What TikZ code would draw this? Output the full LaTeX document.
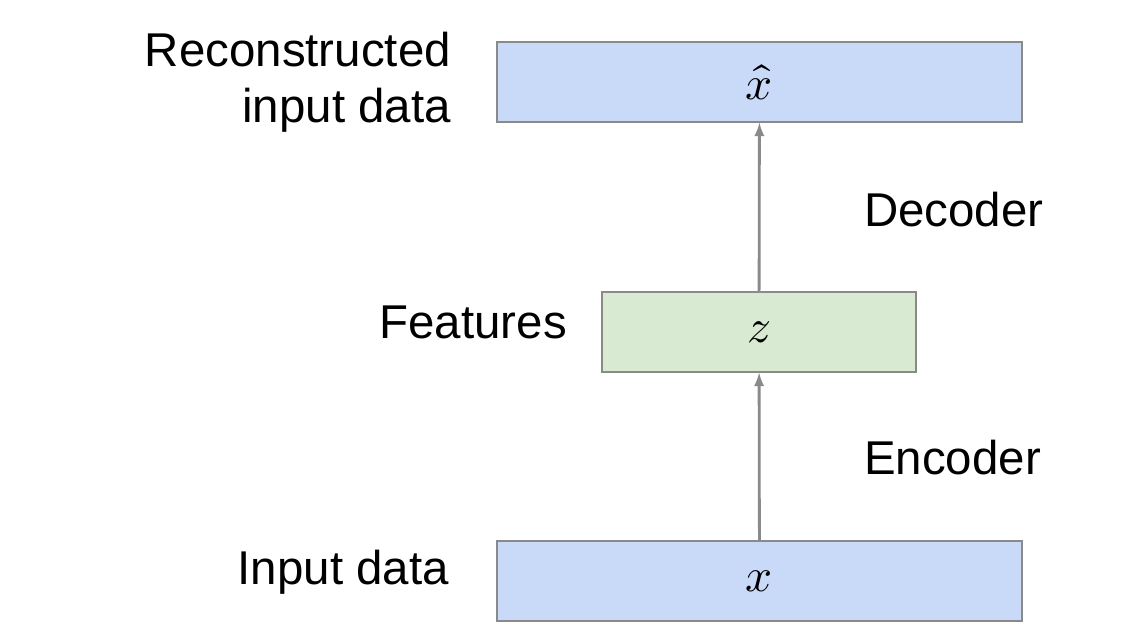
\documentclass[tikz,border=0pt]{standalone}
\usepackage{fontspec}
\setmainfont{Liberation Sans}
\usepackage{unicode-math}
\usetikzlibrary{positioning}
\definecolor{boxblue}{HTML}{C9DAF8}
\definecolor{boxgreen}{HTML}{D9EAD3}
\definecolor{edgegray}{HTML}{8A8A8A}
\begin{document}
\begin{tikzpicture}[x=0.02cm,y=-0.02cm,
    font=\fontsize{27}{32}\selectfont,
    blk/.style={draw=edgegray,line width=0.8pt,fill=boxblue,minimum height=1.6cm,inner sep=0pt},
    lbl/.style={align=right,anchor=east},
    arr/.style={->,>=latex,draw=edgegray,line width=1.6pt}]
    \useasboundingbox (0,0) rectangle (1146,639);
    \node[blk,minimum width=10.5cm] at (759.5,82) (xhat) {$\hat{x}$};
    \node[blk,fill=boxgreen,minimum width=6.28cm] at (759,332) (z) {$z$};
    \node[blk,minimum width=10.5cm] at (759.5,581) (x) {$x$};
    \node[lbl] at (457,82) (rec) {Reconstructed\\input data};
    \node[lbl] at (573,322) (feat) {Features};
    \node[lbl] at (455,572) (inp) {Input data};
    \node[anchor=west] at (858,210) (dec) {Decoder};
    \node[anchor=west] at (858,458) (enc) {Encoder};
    \draw[arr] (x) -- (z);
    \draw[arr] (z) -- (xhat);
\end{tikzpicture}
\end{document}
